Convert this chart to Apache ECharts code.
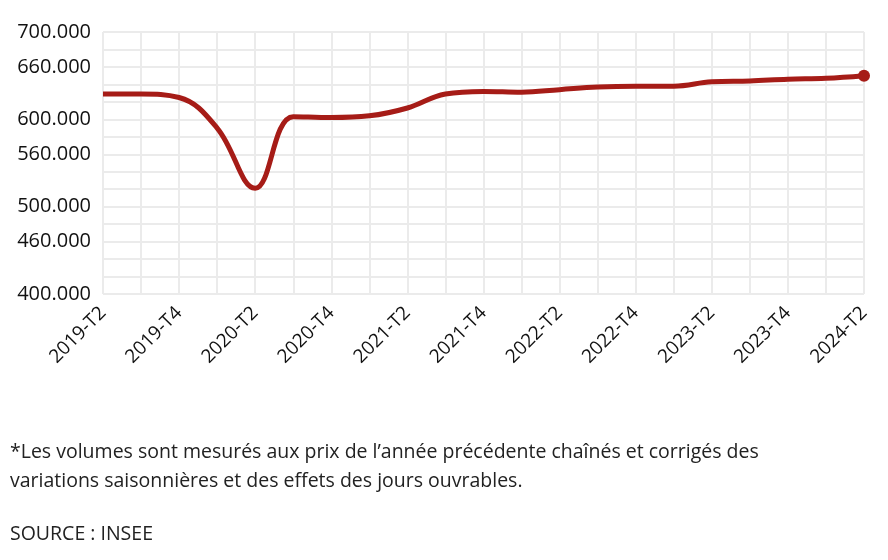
<!DOCTYPE html>
<html>
<head>
<meta charset="utf-8">
<script src="https://cdn.jsdelivr.net/npm/echarts@6/dist/echarts.min.js"></script>
<style>html,body{margin:0;background:#fff}#c{width:888px;height:560px}</style>
</head>
<body>
<div id="c"></div>
<script>
// PIB trimestriel en volume (millions d'euros)
const quarters = ['2019-T2','2019-T3','2019-T4','2020-T1','2020-T2','2020-T3','2020-T4','2021-T1','2021-T2','2021-T3','2021-T4',
  '2022-T1','2022-T2','2022-T3','2022-T4','2023-T1','2023-T2','2023-T3','2023-T4','2024-T1','2024-T2'];
const volumes = [629,629,625,590,521,603,602,604,613,629,632,631,634,637,638,638,643,644,646,647,650];
const shownTicks = [400,460,500,560,600,660,700];

const font = '"Open Sans", Lato, sans-serif';
const chart = echarts.init(document.getElementById('c'));
chart.setOption({
  animation: false,
  grid: { left: 103, right: 24, top: 32, bottom: 266 },
  xAxis: {
    type: 'category',
    data: quarters,
    boundaryGap: false,
    axisLine: { show: false },
    axisTick: { show: false },
    axisLabel: {
      color: '#111', fontSize: 19, fontFamily: font, rotate: 45, margin: 16,
      interval: (i) => i % 2 === 0
    },
    splitLine: { show: true, interval: 0, lineStyle: { color: '#ebebeb', width: 2 } }
  },
  yAxis: {
    type: 'value',
    min: 400, max: 700, interval: 20,
    axisLine: { show: false },
    axisTick: { show: false },
    axisLabel: {
      color: '#111', fontSize: 20, fontFamily: font, margin: 12,
      formatter: v => shownTicks.includes(v) ? v + '.000' : ''
    },
    splitLine: { lineStyle: { color: '#ebebeb', width: 2 } }
  },
  series: [{
    type: 'line',
    data: volumes.map((v, i) => ({
      value: v,
      symbol: i === volumes.length - 1 ? 'circle' : 'none',
      symbolSize: 12
    })),
    smooth: 0.4,
    lineStyle: { color: '#a61c17', width: 5 },
    itemStyle: { color: '#a61c17' }
  }],
  graphic: [
    { type: 'text', left: 10, top: 438, style: {
      text: '*Les volumes sont mesurés aux prix de l’année précédente chaînés et corrigés des\nvariations saisonnières et des effets des jours ouvrables.',
      font: '19.5px ' + font, fill: '#222', lineHeight: 29 } },
    { type: 'text', left: 10, top: 524, style: { text: 'SOURCE : INSEE', font: '19.5px ' + font, fill: '#222' } }
  ]
});
</script>
</body>
</html>
